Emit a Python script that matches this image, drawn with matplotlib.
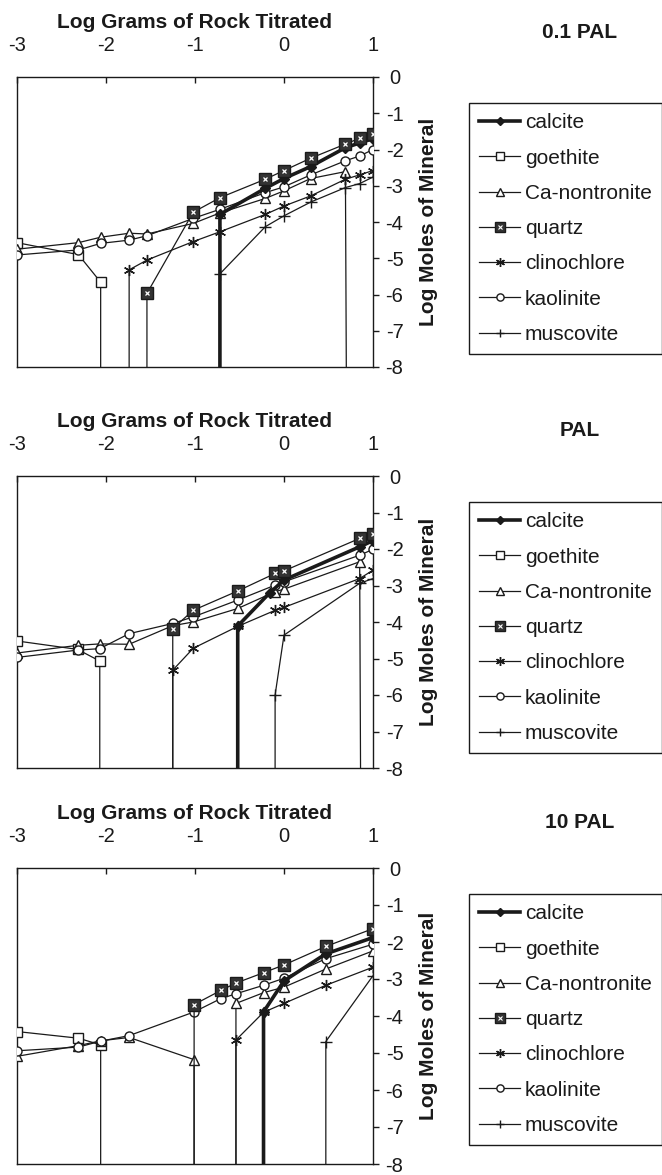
import numpy as np
import matplotlib
matplotlib.use("Agg")
import matplotlib.pyplot as plt
from matplotlib.lines import Line2D
from matplotlib.legend_handler import HandlerTuple

plt.rcParams['font.family'] = ['Liberation Sans', 'DejaVu Sans']

# ---------------- data ----------------
minerals = ['calcite', 'goethite', 'Ca-nontronite', 'quartz', 'clinochlore', 'kaolinite', 'muscovite']
panel_titles = ['0.1 PAL', 'PAL', '10 PAL']
x_ticks = [-3, -2, -1, 0, 1]
y_ticks = [0, -1, -2, -3, -4, -5, -6, -7, -8]
x_label = 'Log Grams of Rock Titrated'
y_label = 'Log Moles of Mineral'

# 0.1 PAL
p1_calcite_x = [-0.72, -0.72, -0.21, 0.0, 0.30, 0.69, 0.85, 1.0]
p1_calcite_y = [-8.0, -3.79, -3.07, -2.80, -2.47, -1.95, -1.82, -1.70]
p1_goethite_x = [-3.0, -2.31, -2.06, -2.06]
p1_goethite_y = [-4.57, -4.90, -5.66, -8.0]
p1_nontronite_x = [-3.0, -2.31, -2.06, -1.74, -1.54, -1.02, -0.72, -0.21, 0.0, 0.30, 0.69, 0.70]
p1_nontronite_y = [-4.75, -4.57, -4.42, -4.31, -4.33, -4.04, -3.75, -3.35, -3.14, -2.80, -2.61, -8.0]
p1_quartz_x = [-1.54, -1.54, -1.02, -0.72, -0.21, 0.0, 0.30, 0.69, 0.85, 1.0]
p1_quartz_y = [-8.0, -5.97, -3.73, -3.33, -2.82, -2.58, -2.24, -1.85, -1.69, -1.57]
p1_clinochlore_x = [-1.74, -1.74, -1.54, -1.02, -0.72, -0.21, 0.0, 0.30, 0.69, 0.85, 1.0]
p1_clinochlore_y = [-8.0, -5.32, -5.05, -4.54, -4.27, -3.79, -3.56, -3.28, -2.82, -2.70, -2.58]
p1_kaolinite_x = [-3.0, -2.31, -2.06, -1.74, -1.54, -1.02, -0.72, -0.21, 0.0, 0.30, 0.69, 0.85, 1.0]
p1_kaolinite_y = [-4.91, -4.77, -4.59, -4.50, -4.38, -3.90, -3.65, -3.19, -3.03, -2.70, -2.31, -2.18, -2.00]
p1_muscovite_x = [-0.72, -0.72, -0.21, 0.0, 0.30, 0.69, 0.85, 1.0]
p1_muscovite_y = [-8.0, -5.43, -4.13, -3.83, -3.45, -3.05, -2.94, -2.76]

# PAL
p2_calcite_x = [-0.52, -0.52, -0.16, 0.0, 0.85, 1.0]
p2_calcite_y = [-8.0, -4.11, -3.20, -2.85, -1.94, -1.77]
p2_goethite_x = [-3.0, -2.32, -2.07, -2.07]
p2_goethite_y = [-4.52, -4.75, -5.07, -8.0]
p2_nontronite_x = [-3.0, -2.32, -2.07, -1.74, -1.25, -1.02, -0.52, -0.10, 0.0, 0.85, 0.86]
p2_nontronite_y = [-4.85, -4.64, -4.60, -4.61, -4.10, -4.00, -3.63, -3.17, -3.10, -2.35, -8.0]
p2_quartz_x = [-1.25, -1.25, -1.02, -0.52, -0.10, 0.0, 0.85, 1.0]
p2_quartz_y = [-8.0, -4.18, -3.68, -3.15, -2.67, -2.60, -1.71, -1.59]
p2_clinochlore_x = [-1.25, -1.25, -1.02, -0.52, -0.10, 0.0, 0.85, 1.0]
p2_clinochlore_y = [-8.0, -5.32, -4.72, -4.12, -3.68, -3.60, -2.81, -2.58]
p2_kaolinite_x = [-3.0, -2.32, -2.07, -1.74, -1.25, -1.02, -0.52, -0.10, 0.0, 0.85, 1.0]
p2_kaolinite_y = [-4.97, -4.77, -4.73, -4.32, -4.04, -3.86, -3.40, -2.99, -2.90, -2.17, -2.01]
p2_muscovite_x = [-0.10, -0.10, 0.0, 0.85, 1.0]
p2_muscovite_y = [-8.0, -6.00, -4.36, -2.94, -2.81]

# 10 PAL
p3_calcite_x = [-0.23, -0.23, 0.0, 0.47, 1.0]
p3_calcite_y = [-8.0, -3.89, -3.05, -2.32, -1.88]
p3_goethite_x = [-3.0, -2.31, -2.06, -2.06]
p3_goethite_y = [-4.42, -4.60, -4.78, -8.0]
p3_nontronite_x = [-3.0, -2.31, -2.06, -1.74, -1.01, -1.01, np.nan, -0.54, -0.54, -0.23, 0.0, 0.47, 1.0]
p3_nontronite_y = [-5.09, -4.80, -4.67, -4.58, -5.18, -8.0, np.nan, -8.0, -3.66, -3.37, -3.22, -2.73, -2.24]
p3_quartz_x = [-1.01, -1.01, -0.71, -0.54, -0.23, 0.0, 0.47, 1.0]
p3_quartz_y = [-8.0, -3.69, -3.31, -3.11, -2.83, -2.62, -2.12, -1.64]
p3_clinochlore_x = [-0.54, -0.54, -0.23, 0.0, 0.47, 1.0]
p3_clinochlore_y = [-8.0, -4.65, -3.90, -3.66, -3.17, -2.68]
p3_kaolinite_x = [-3.0, -2.31, -2.06, -1.74, -1.01, -0.71, -0.54, -0.23, 0.0, 0.47, 1.0]
p3_kaolinite_y = [-4.94, -4.84, -4.68, -4.53, -3.89, -3.53, -3.40, -3.17, -2.98, -2.45, -2.06]
p3_muscovite_x = [0.47, 0.47, 1.0]
p3_muscovite_y = [-8.0, -4.69, -2.91]

panels = [
    [(p1_calcite_x, p1_calcite_y), (p1_goethite_x, p1_goethite_y), (p1_nontronite_x, p1_nontronite_y),
     (p1_quartz_x, p1_quartz_y), (p1_clinochlore_x, p1_clinochlore_y), (p1_kaolinite_x, p1_kaolinite_y),
     (p1_muscovite_x, p1_muscovite_y)],
    [(p2_calcite_x, p2_calcite_y), (p2_goethite_x, p2_goethite_y), (p2_nontronite_x, p2_nontronite_y),
     (p2_quartz_x, p2_quartz_y), (p2_clinochlore_x, p2_clinochlore_y), (p2_kaolinite_x, p2_kaolinite_y),
     (p2_muscovite_x, p2_muscovite_y)],
    [(p3_calcite_x, p3_calcite_y), (p3_goethite_x, p3_goethite_y), (p3_nontronite_x, p3_nontronite_y),
     (p3_quartz_x, p3_quartz_y), (p3_clinochlore_x, p3_clinochlore_y), (p3_kaolinite_x, p3_kaolinite_y),
     (p3_muscovite_x, p3_muscovite_y)],
]

# ---------------- styling ----------------
C = '#1a1a1a'
W, H = 662, 1175
styles = {
    'calcite':       dict(marker='D', ms=5.0, mfc=C, mec=C, mew=1.0, lw=2.6, z=5),
    'goethite':      dict(marker='s', ms=7.0, mfc='white', mec=C, mew=1.0, lw=0.9, z=3),
    'Ca-nontronite': dict(marker='^', ms=7.5, mfc='white', mec=C, mew=1.0, lw=0.9, z=3),
    'quartz':        dict(marker='s', ms=8.5, mfc='#333333', mec=C, mew=1.0, lw=0.9, z=6),
    'clinochlore':   dict(marker=(6, 2, 0), ms=8.0, mfc=C, mec=C, mew=1.0, lw=0.9, z=3),
    'kaolinite':     dict(marker='o', ms=6.5, mfc='white', mec=C, mew=1.0, lw=0.9, z=4),
    'muscovite':     dict(marker='+', ms=8.0, mfc=C, mec=C, mew=1.0, lw=0.9, z=3),
}

# axes rectangles in pixels (left, top, right, bottom)
rects = [(17, 77, 373, 367), (17, 476, 373, 768), (17, 868, 373, 1164)]
title_y = [32, 431, 823]
legend_top = [103, 502, 894]

fig = plt.figure(figsize=(W / 100, H / 100), dpi=100)

for pi, (series, (l, t, r, b)) in enumerate(zip(panels, rects)):
    ax = fig.add_axes([l / W, 1 - b / H, (r - l) / W, (b - t) / H])
    for name, (xs, ys) in zip(minerals, series):
        st = styles[name]
        xs = np.asarray(xs, float)
        ys = np.asarray(ys, float)
        ax.plot(xs, ys, color=C, lw=st['lw'], zorder=st['z'], solid_capstyle='butt')
        m = ys > -7.99
        ax.plot(xs[m], ys[m], ls='none', marker=st['marker'], ms=st['ms'], mfc=st['mfc'],
                mec=st['mec'], mew=st['mew'], zorder=st['z'] + 0.1)
        if name == 'quartz':
            ax.plot(xs[m], ys[m], ls='none', marker='x', ms=3, mec='white', mew=0.9,
                    zorder=st['z'] + 0.2)
    ax.set_xlim(-3, 1)
    ax.set_ylim(-8, 0)
    ax.xaxis.tick_top()
    ax.xaxis.set_label_position('top')
    ax.yaxis.tick_right()
    ax.yaxis.set_label_position('right')
    ax.set_xticks(x_ticks)
    ax.set_xticklabels([str(v) for v in x_ticks])
    ax.set_yticks(y_ticks)
    ax.set_yticklabels([str(v) for v in y_ticks])
    ax.tick_params(axis='x', direction='in', length=4, width=1, pad=15.5, labelsize=14.5,
                   top=True, bottom=False, colors=C)
    ax.tick_params(axis='y', direction='out', length=4, width=1, pad=11.5, labelsize=14.5,
                   right=True, left=False, colors=C)
    plt.setp(ax.get_yticklabels(), ha='center')
    for s in ax.spines.values():
        s.set_linewidth(1.0)
        s.set_color(C)
    ax.set_xlabel(x_label, fontsize=15, fontweight='bold', labelpad=6, color=C)
    ax.set_ylabel(y_label, fontsize=15, fontweight='bold', labelpad=11, color=C)

    fig.text(580 / W, 1 - title_y[pi] / H, panel_titles[pi], ha='center', va='center',
             fontsize=15, fontweight='bold', color=C)

    handles = []
    for name in minerals:
        st = styles[name]
        h = Line2D([], [], color=C, lw=st['lw'], marker=st['marker'], ms=st['ms'] * 0.8,
                   mfc=st['mfc'], mec=st['mec'], mew=st['mew'])
        if name == 'quartz':
            h2 = Line2D([], [], ls='none', marker='x', ms=2.5, mec='white', mew=0.8)
            h = (h, h2)
        handles.append(h)
    leg = ax.legend(handles, minerals, loc='upper left',
                    bbox_to_anchor=(469 / W, 1 - legend_top[pi] / H),
                    bbox_transform=fig.transFigure, borderaxespad=0, fontsize=15,
                    handlelength=1.95, handletextpad=0.22, labelspacing=0.78, borderpad=0.5,
                    fancybox=False, framealpha=1, edgecolor=C,
                    handler_map={tuple: HandlerTuple(ndivide=1, pad=0)})
    leg.get_frame().set_linewidth(1.0)
    for txt in leg.get_texts():
        txt.set_color(C)

fig.savefig('out.png', dpi=100)
